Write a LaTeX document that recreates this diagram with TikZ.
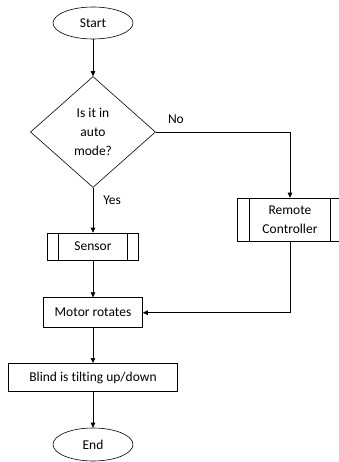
\documentclass[tikz,border=0pt]{standalone}
\usepackage{fontspec}
\setmainfont[Ligatures=NoCommon]{Carlito}
\usepackage{tikz}
\usetikzlibrary{shapes.geometric, arrows.meta, positioning}

\begin{document}
\begin{tikzpicture}[
  x=1pt, y=1pt,
  term/.style={ellipse, draw, minimum width=80pt, minimum height=32pt, inner sep=0pt, font=\fontsize{13.5}{19}\selectfont},
  decide/.style={diamond, draw, minimum width=125pt, minimum height=111pt, inner sep=0pt, align=center, font=\fontsize{13.5}{19}\selectfont},
  box/.style={rectangle, draw, inner sep=0pt, align=center, font=\fontsize{13.5}{19}\selectfont},
  lbl/.style={inner sep=0pt, font=\fontsize{13.5}{16}\selectfont},
  arrow/.style={-{Triangle[length=5pt, width=4.5pt]}},
  line width=0.6pt
]
  \useasboundingbox (0,0) rectangle (339,-462);

  % Start and decision
  \node[term] (start) at (93,-23) {Start};
  \node[decide] (decision) at (93,-132) {Is it in\\auto\\mode?};

  % Sub-processes
  \node[box, minimum width=91pt, minimum height=27pt] (sensor) at (93,-246.5) {Sensor};
  \node[box, minimum width=106pt, minimum height=43pt] (remote) at (290,-219.5) {Remote\\Controller};
  \foreach \n/\d in {sensor/11.5, remote/13} {
    \draw ([xshift=\d pt]\n.north west) -- ([xshift=\d pt]\n.south west);
    \draw ([xshift=-\d pt]\n.north east) -- ([xshift=-\d pt]\n.south east);
  }

  % Process steps
  \node[box, minimum width=99pt, minimum height=30pt] (motor) at (93,-312.7) {Motor rotates};
  \node[box, minimum width=169pt, minimum height=28.4pt] (blind) at (93,-377.5) {Blind is tilting up/down};
  \node[term, minimum height=33pt] (stop) at (93,-444.5) {End};

  % Flow
  \draw[arrow] (start) -- (decision);
  \draw[arrow] (decision.east) -| node[lbl, pos=0.075, above=8pt] {No} (remote.north);
  \draw[arrow] (decision.south) -- node[lbl, pos=0.27, right=10pt] {Yes} (sensor.north);
  \draw[arrow] (sensor) -- (motor);
  \draw[arrow] (remote.south) |- (motor.east);
  \draw[arrow] (motor) -- (blind);
  \draw[arrow] (blind) -- (stop);
\end{tikzpicture}
\end{document}
